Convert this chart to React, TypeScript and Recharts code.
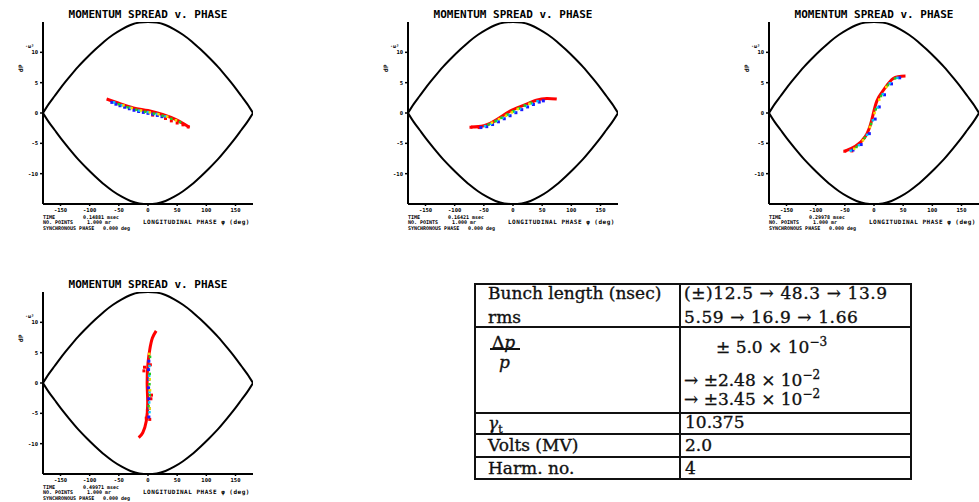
import React from 'react';
import { ComposedChart, Line, Scatter, XAxis, YAxis } from 'recharts';

type Pair = [number, number];

// separatrix (bucket), phase in deg, dp/p in 1e-3
const phaseDeg = [-180, -170, -160, -150, -135, -120, -105, -90, -75, -60, -45, -30, -15, 0, 15, 30, 45, 60, 75, 90, 105, 120, 135, 150, 160, 170, 180];
const sepTop = [0, 1.5, 2.8, 4.1, 5.9, 7.6, 9.1, 10.5, 11.8, 12.9, 13.8, 14.5, 14.9, 15.0, 14.9, 14.5, 13.8, 12.9, 11.8, 10.5, 9.1, 7.6, 5.9, 4.1, 2.8, 1.5, 0];
const sepBottom = [0, -1.5, -2.8, -4.1, -5.9, -7.6, -9.1, -10.5, -11.8, -12.9, -13.8, -14.5, -14.9, -15.0, -14.9, -14.5, -13.8, -12.9, -11.8, -10.5, -9.1, -7.6, -5.9, -4.1, -2.8, -1.5, 0];

const xTicks = [-150, -100, -50, 0, 50, 100, 150];
const yTicks = [-10, -5, 0, 5, 10];

// plot 1
const p1Red: Pair[] = [[-71, 2.3], [-48, 1.55], [-25, 0.85], [0, 0.4], [25, -0.25], [48, -1.1], [71, -2.35]];
const p1Red2: Pair[] = [[8, -0.35], [30, -0.9], [50, -1.65], [69, -2.3], [60, -1.95], [40, -1.3]];
const p1Blue: Pair[] = [[-62, 1.75], [-55, 1.45], [-48, 1.2], [-40, 0.95], [-32, 0.7], [-24, 0.45], [-16, 0.25], [-8, 0.1], [0, -0.05], [8, -0.2], [16, -0.4], [24, -0.6]];
const p1Cyan: Pair[] = [[-58, 1.75], [-45, 1.3], [-30, 0.85], [-15, 0.4], [0, 0.15], [15, -0.15], [30, -0.55]];
const p1Green: Pair[] = [[-50, 1.45], [-35, 0.95], [-20, 0.55], [-5, 0.2], [10, -0.1], [25, -0.45], [40, -0.95], [55, -1.5]];
const p1Yellow: Pair[] = [[-42, 1.25], [-28, 0.8], [-12, 0.4], [3, 0.1], [18, -0.2], [33, -0.6], [48, -1.2]];

// plot 2
const p2Red: Pair[] = [[-72, -2.3], [-50, -2.1], [-27, -1.05], [-5, 0.3], [18, 1.25], [40, 2.1], [58, 2.4], [75, 2.3]];
const p2Red2: Pair[] = [[-72, -2.35], [-58, -2.4]];
const p2Blue: Pair[] = [[-55, -2.4], [-45, -2.25], [-35, -1.9], [-25, -1.45], [-15, -0.95], [-5, -0.45], [5, 0.05], [15, 0.55], [25, 1.0], [35, 1.4], [45, 1.8], [52, 2.0]];
const p2Cyan: Pair[] = [[-48, -2.15], [-38, -1.8], [-28, -1.3], [-18, -0.8], [-8, -0.3], [2, 0.2], [12, 0.7], [22, 1.15], [32, 1.55], [42, 1.95]];
const p2Green: Pair[] = [[-42, -1.9], [-30, -1.35], [-20, -0.8], [-10, -0.25], [0, 0.3], [10, 0.8], [20, 1.25], [30, 1.7]];
const p2Yellow: Pair[] = [[-36, -1.6], [-24, -1.0], [-12, -0.45], [-2, 0.1], [8, 0.65], [28, 1.5]];

// plot 3
const p3Red: Pair[] = [[-50, -6.3], [-32, -5.5], [-15, -3.9], [-4, -1.2], [5, 2.0], [18, 4.0], [33, 5.7], [54, 6.1]];
const p3Red2: Pair[] = [[-50, -6.3], [-38, -6.25]];
const p3Blue: Pair[] = [[-36, -6.1], [-22, -5.2], [-8, -3.4], [2, -1.0], [9, 1.0], [18, 3.0], [30, 4.8], [44, 5.8]];
const p3Cyan: Pair[] = [[-40, -6.2], [-26, -5.3], [-12, -3.6], [-2, -1.2], [6, 0.9], [15, 3.1], [27, 4.9], [40, 5.8]];
const p3Green: Pair[] = [[-30, -5.6], [-16, -4.1], [-5, -1.8], [3, 0.6], [12, 2.8], [24, 4.6], [36, 5.7]];
const p3Yellow: Pair[] = [[-34, -5.9], [-19, -4.5], [-7, -2.3], [1, 0.0], [9, 2.2], [21, 4.3]];

// plot 4
const p4Red: Pair[] = [[-16, -9.0], [-9, -8.2], [-3, -6.3], [-0.5, -3.3], [-1.5, 0], [0, 3.3], [3, 5.5], [7.5, 7.4], [14, 8.6]];
const p4Red2: Pair[] = [[-7, 2.0], [-6, 2.6], [6, -2.0], [5, -2.6], [-3, -5.8], [-1, -4.5], [3, -6.0], [4, 3.0]];
const p4Blue: Pair[] = [[1.5, -5.6], [2, -4.2], [1.5, -2.6], [1, -0.8], [1.5, 0.6], [1, 2.2], [1.5, 3.6]];
const p4Cyan: Pair[] = [[2.5, -4.8], [2, -3.2], [2.5, -1.5], [2, 1.2], [2.5, 2.8]];
const p4Green: Pair[] = [[3, -2.0], [2.5, -0.2], [3, 1.5], [1, -3.8], [3.5, 4.3]];
const p4Yellow: Pair[] = [[3.5, -1.2], [3, 0.6], [2, 4.8], [3, -4.2]];

const times = ['0.14881 msec', '0.16421 msec', '0.29978 msec', '0.49971 msec'];

const pts = (a: Pair[]) => a.map(([x, y]) => ({ x, y }));
const sepTopData = phaseDeg.map((x, i) => ({ x, y: sepTop[i] }));
const sepBottomData = phaseDeg.map((x, i) => ({ x, y: sepBottom[i] }));

const mono = '"DejaVu Sans Mono", monospace';
const serif = '"DejaVu Serif", serif';

const square = (s: number) => (p: any) => (
  <rect x={p.cx - s / 2} y={p.cy - s / 2} width={s} height={s} fill={p.fill} />
);

interface PlotProps {
  left: number; // frame left
  top: number; // frame top
  red: Pair[];
  red2: Pair[];
  blue: Pair[];
  cyan: Pair[];
  green: Pair[];
  yellow: Pair[];
  time: string;
}

const PhasePlot = ({ left, top, red, red2, blue, cyan, green, yellow, time }: PlotProps) => {
  const fw = 210;
  const fh = 182;
  const tiny = { fontFamily: mono, fontSize: 6, fontWeight: 700, letterSpacing: 0.5, lineHeight: '6px', position: 'absolute' as const, whiteSpace: 'pre' as const, color: '#000' };
  const small = { ...tiny, fontSize: 5, letterSpacing: 0 };
  return (
    <>
      <div style={{ position: 'absolute', left, width: fw, top: top - 13, textAlign: 'center', fontFamily: mono, fontSize: 11, fontWeight: 700, lineHeight: '11px', color: '#000' }}>
        MOMENTUM SPREAD v. PHASE
      </div>
      <div style={{ ...tiny, left: left - 26, top: top + 43, transform: 'rotate(-90deg)' }}>dP</div>
      <div style={{ ...small, left: left - 18, top: top + 21 }}>·ω³</div>
      <div style={{ position: 'absolute', left: left - 30, top }}>
        <ComposedChart width={30 + fw} height={fh + 12} margin={{ top: 0, right: 0, bottom: 0, left: 0 }}>
          <XAxis type="number" dataKey="x" domain={[-180, 180]} ticks={xTicks} allowDataOverflow
            axisLine={{ stroke: '#000', strokeWidth: 2 }} tickLine={{ stroke: '#000', strokeWidth: 1.5 }} tickSize={2} height={12}
            tick={{ fontSize: 5.5, fontFamily: mono, fontWeight: 700, fill: '#000' }} />
          <XAxis xAxisId="top" orientation="top" type="number" dataKey="x" domain={[-180, 180]} ticks={xTicks} mirror height={0}
            axisLine={{ stroke: '#000', strokeWidth: 2 }} tickLine={{ stroke: '#000', strokeWidth: 1.5 }} tickSize={3} tick={false} />
          <YAxis type="number" dataKey="y" domain={[-15, 15]} ticks={yTicks} allowDataOverflow width={30}
            axisLine={{ stroke: '#000', strokeWidth: 2 }} tickLine={{ stroke: '#000', strokeWidth: 1.5 }} tickSize={3}
            tick={{ fontSize: 5.5, fontFamily: mono, fontWeight: 700, fill: '#000' }} />
          <YAxis yAxisId="right" orientation="right" type="number" dataKey="y" domain={[-15, 15]} ticks={yTicks} mirror width={0}
            axisLine={{ stroke: '#000', strokeWidth: 2 }} tickLine={{ stroke: '#000', strokeWidth: 1.5 }} tickSize={3} tick={false} />
          <Line data={sepTopData} dataKey="y" type="monotone" stroke="#000" strokeWidth={2} dot={false} isAnimationActive={false} />
          <Line data={sepBottomData} dataKey="y" type="monotone" stroke="#000" strokeWidth={2} dot={false} isAnimationActive={false} />
          <Line data={pts(red)} dataKey="y" type="natural" stroke="#ff0000" strokeWidth={3} dot={false} isAnimationActive={false} />
          <Scatter data={pts(red2)} fill="#ff0000" shape={square(3)} isAnimationActive={false} />
          <Scatter data={pts(blue)} fill="#1a1aff" shape={square(3)} isAnimationActive={false} />
          <Scatter data={pts(cyan)} fill="#00c8ff" shape={square(2.5)} isAnimationActive={false} />
          <Scatter data={pts(green)} fill="#22cc22" shape={square(2.5)} isAnimationActive={false} />
          <Scatter data={pts(yellow)} fill="#f0e000" shape={square(2.5)} isAnimationActive={false} />
        </ComposedChart>
      </div>
      <div style={{ ...small, left, top: top + fh + 10 }}>TIME</div>
      <div style={{ ...small, left: left + 40, top: top + fh + 10 }}>{time}</div>
      <div style={{ ...small, left, top: top + fh + 15 }}>NO. POINTS</div>
      <div style={{ ...small, left: left + 44, top: top + fh + 15 }}>1.000 mr</div>
      <div style={{ ...tiny, left: left + 100, top: top + fh + 15 }}>LONGITUDINAL PHASE φ (deg)</div>
      <div style={{ ...small, left, top: top + fh + 21 }}>SYNCHRONOUS PHASE</div>
      <div style={{ ...small, left: left + 60, top: top + fh + 21 }}>0.000 deg</div>
    </>
  );
};

const T = ({ x, y, children, ls = 0 }: { x: number; y: number; children: React.ReactNode; ls?: number }) => (
  <div style={{ position: 'absolute', left: x, top: y - 11, lineHeight: '22px', fontFamily: serif, fontSize: 17, letterSpacing: ls, whiteSpace: 'pre', color: '#111', WebkitTextStroke: '0.35px #111' }}>
    {children}
  </div>
);

const sup = { fontSize: 12, verticalAlign: 'super', lineHeight: 0 } as const;

const ParamTable = () => {
  const L = 474;
  const Tp = 283;
  const line = '#111';
  return (
    <>
      <div style={{ position: 'absolute', left: L, top: Tp, width: 438, height: 197, border: `2px solid ${line}`, boxSizing: 'border-box' }} />
      <div style={{ position: 'absolute', left: 679, top: Tp, width: 2, height: 197, background: line }} />
      {[44, 130, 151, 174].map((h) => (
        <div key={h} style={{ position: 'absolute', left: L, top: Tp + h - 1, width: 438, height: 2, background: line }} />
      ))}
      <T x={488} y={293}>Bunch length (nsec)</T>
      <T x={488} y={317}>rms</T>
      <T x={684} y={293} ls={0.6}>{'(±)12.5 → 48.3 → 13.9'}</T>
      <T x={684} y={317} ls={0.6}>{'5.59 → 16.9 → 1.66'}</T>
      <T x={492} y={342}>Δ<i>p</i></T>
      <div style={{ position: 'absolute', left: 490, top: 348, width: 30, height: 1.5, background: line }} />
      <T x={499} y={362}><i>p</i></T>
      <T x={716} y={347}>± 5.0 × 10<span style={sup}>−3</span></T>
      <T x={684} y={380}>→ ±2.48 × 10<span style={sup}>−2</span></T>
      <T x={684} y={399}>→ ±3.45 × 10<span style={sup}>−2</span></T>
      <T x={488} y={423}><i>γ</i><sub style={{ fontSize: 11 }}>t</sub></T>
      <T x={685} y={422}>10.375</T>
      <T x={488} y={445}>Volts (MV)</T>
      <T x={685} y={445}>2.0</T>
      <T x={488} y={468}>Harm. no.</T>
      <T x={685} y={468}>4</T>
    </>
  );
};

export default function App() {
  return (
    <div style={{ position: 'absolute', left: 0, top: 0, width: 979, height: 502, background: '#fff', overflow: 'hidden' }}>
      <PhasePlot left={43} top={22} red={p1Red} red2={p1Red2} blue={p1Blue} cyan={p1Cyan} green={p1Green} yellow={p1Yellow} time={times[0]} />
      <PhasePlot left={408} top={22} red={p2Red} red2={p2Red2} blue={p2Blue} cyan={p2Cyan} green={p2Green} yellow={p2Yellow} time={times[1]} />
      <PhasePlot left={769} top={22} red={p3Red} red2={p3Red2} blue={p3Blue} cyan={p3Cyan} green={p3Green} yellow={p3Yellow} time={times[2]} />
      <PhasePlot left={43} top={292} red={p4Red} red2={p4Red2} blue={p4Blue} cyan={p4Cyan} green={p4Green} yellow={p4Yellow} time={times[3]} />
      <ParamTable />
    </div>
  );
}
